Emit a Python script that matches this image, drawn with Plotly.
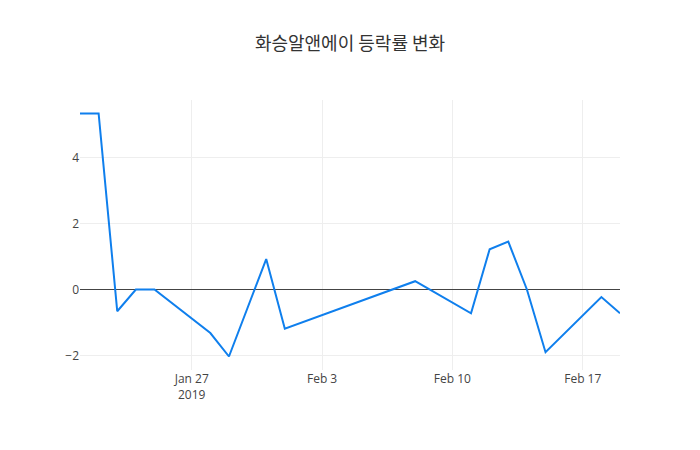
import plotly.graph_objects as go

dates = ["2019-01-21", "2019-01-22", "2019-01-23", "2019-01-24", "2019-01-25",
         "2019-01-28", "2019-01-29", "2019-01-31", "2019-02-01", "2019-02-08",
         "2019-02-11", "2019-02-12", "2019-02-13", "2019-02-14", "2019-02-15",
         "2019-02-18", "2019-02-19"]
change_pct = [5.33, 5.33, -0.66, 0.0, 0.0,
              -1.32, -2.03, 0.92, -1.19, 0.25,
              -0.72, 1.22, 1.45, 0.0, -1.90,
              -0.23, -0.72]

fig = go.Figure()
fig.add_trace(go.Scatter(x=dates, y=change_pct, mode="lines",
                         line=dict(color="#0f7fed", width=2)))

fig.update_layout(
    template="none",
    width=700, height=450,
    title=dict(text="화승알앤에이 등락률 변화", x=0.5, xanchor="center",
               font=dict(family="Noto Sans CJK KR, Open Sans", size=18, color="#333")),
    font=dict(family="Open Sans, Noto Sans CJK KR", size=12, color="#444"),
    margin=dict(l=80, r=80, t=100, b=80),
    paper_bgcolor="white", plot_bgcolor="white",
    showlegend=False,
    xaxis=dict(showgrid=True, gridcolor="#eee", zeroline=False, showline=False,
               ticks=""),
    yaxis=dict(showgrid=True, gridcolor="#eee", zeroline=True, zerolinecolor="#444",
               zerolinewidth=1, showline=False, ticks="", dtick=2),
)

fig.write_html("out.html")
